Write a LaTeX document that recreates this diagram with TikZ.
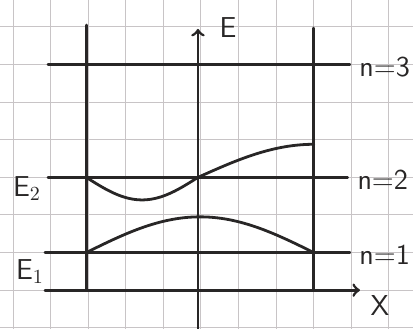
\documentclass[tikz,border=0pt]{standalone}
\usepackage{tikz}
\usetikzlibrary{arrows}
\definecolor{gridcustom}{RGB}{200,196,198}
\definecolor{inkcustom}{RGB}{40,38,38}

\tikzset{
    gridline/.style={gridcustom, line width=0.5pt},
    inkline/.style={inkcustom, line width=1.4pt, line cap=round},
    lbl/.style={inkcustom, font=\sffamily\Large, inner sep=1pt}
}

\begin{document}
\begin{tikzpicture}[x=18.8pt, y=-18.8pt]
        % Paper size
        \useasboundingbox (-0.346,-0.718) rectangle (10.64,8.03);

        % Squared paper
        \foreach \i in {0,...,10} {
            \draw[gridline] (\i,-0.718) -- (\i,8.03);
        }
        \foreach \j in {0,...,8} {
            \draw[gridline] (-0.346,\j) -- (10.64,\j);
        }

        % Walls of the well
        \coordinate (wallLtop) at (1.95,-0.05);
        \coordinate (wallLbot) at (1.95,7);
        \coordinate (wallRtop) at (8,0.03);
        \coordinate (wallRbot) at (8,7);
        \draw[inkline] (wallLtop) -- (wallLbot);
        \draw[inkline] (wallRtop) -- (wallRbot);

        % Axes
        \coordinate (Ebot) at (4.92,8.03);
        \coordinate (Etop) at (4.92,0.05);
        \coordinate (Xleft) at (0.85,7);
        \coordinate (Xright) at (9.23,7);
        \draw[inkline, ->] (Ebot) -- (Etop);
        \draw[inkline, ->] (Xleft) -- (Xright);
        \node[lbl] (labE) at (5.72,0.02) {E};
        \node[lbl] (labX) at (9.76,7.4) {X};

        % Energy levels
        \coordinate (lev3a) at (0.93,1);
        \coordinate (lev3b) at (8.96,1);
        \coordinate (lev2a) at (0.93,4);
        \coordinate (lev2b) at (8.9,4);
        \coordinate (lev1a) at (0.85,6);
        \coordinate (lev1b) at (8.96,6);
        \draw[inkline] (lev3a) -- (lev3b);
        \draw[inkline] (lev2a) -- (lev2b);
        \draw[inkline] (lev1a) -- (lev1b);
        \node[lbl, anchor=west] (labn3) at (9.15,1.07) {n=3};
        \node[lbl, anchor=west] (labn2) at (9.1,4.07) {n=2};
        \node[lbl, anchor=west] (labn1) at (9.15,6.06) {n=1};
        \node[lbl] (labE2) at (0.37,4.3) {E$_2$};
        \node[lbl] (labE1) at (0.45,6.5) {E$_1$};

        % Wave functions
        \draw[inkline, domain=1.95:8, samples=60, smooth]
            plot (\x, {6-0.95*sin(180*(\x-1.95)/6.05)});
        \draw[inkline, domain=1.95:4.92, samples=40, smooth]
            plot (\x, {4+0.6*sin(180*(\x-1.95)/2.97)});
        \draw[inkline, domain=4.92:8, samples=40, smooth]
            plot (\x, {4-0.88*sin(90*(\x-4.92)/3.08)});
\end{tikzpicture}
\end{document}
